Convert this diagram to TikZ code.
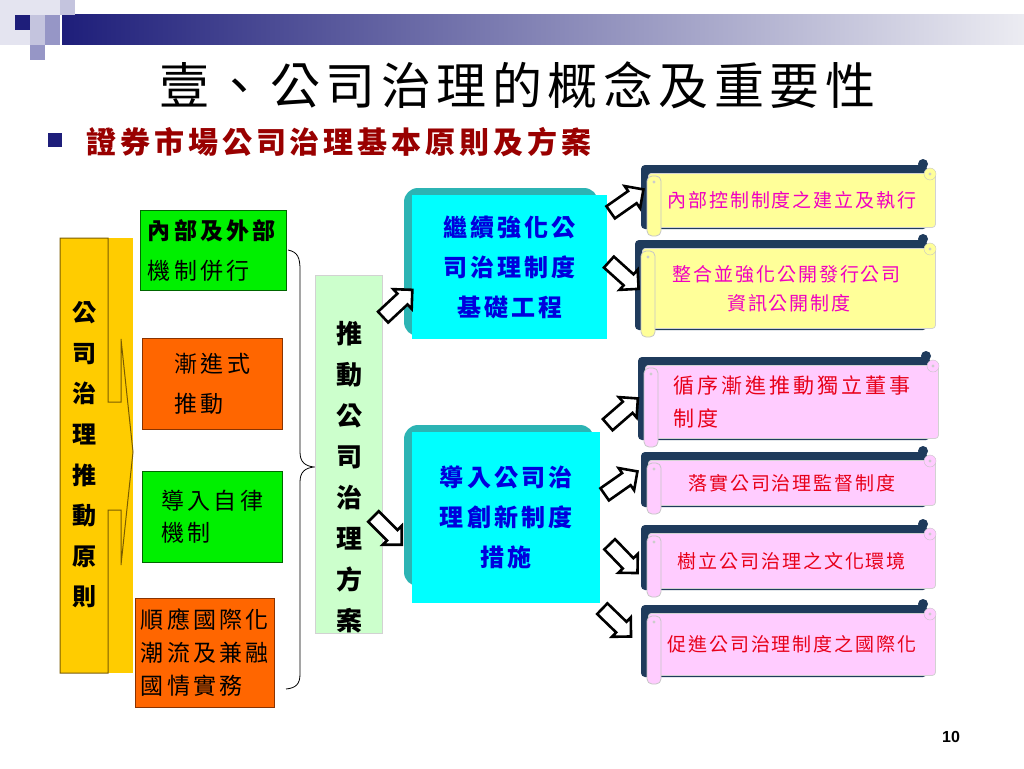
\documentclass[tikz,border=0pt]{standalone}
\usepackage{fontspec}
\usetikzlibrary{shapes.arrows,positioning,calc}
\newfontfamily\cjk{Noto Sans CJK TC}
\newfontfamily\numf{Liberation Sans}

\definecolor{navybar}{HTML}{1E1E7A}
\definecolor{barend}{HTML}{ECECF2}
\definecolor{sqpale}{HTML}{E4E4F0}
\definecolor{sqlight}{HTML}{C4C4DE}
\definecolor{sqmid}{HTML}{9696C6}
\definecolor{subred}{HTML}{990000}
\definecolor{colgold}{HTML}{FFCC00}
\definecolor{goldedge}{HTML}{7A5C00}
\definecolor{limefill}{HTML}{00F000}
\definecolor{limeedge}{HTML}{006600}
\definecolor{orangefill}{HTML}{FF6600}
\definecolor{orangeedge}{HTML}{8A3300}
\definecolor{mintfill}{HTML}{CCFFCC}
\definecolor{cyanfill}{HTML}{00FFFF}
\definecolor{cyanback}{HTML}{2CB4B4}
\definecolor{cyantext}{HTML}{0000DD}
\definecolor{scrollnavy}{HTML}{1F3B5C}
\definecolor{scrollyellow}{HTML}{FFFF99}
\definecolor{scrollpink}{HTML}{FFCCFF}
\definecolor{magtext}{HTML}{F000C0}
\definecolor{redtext}{HTML}{E8001A}

% scroll: name, x1, y1, x2, y2, fill, font/colour, text
\newcommand{\scrollbox}[8]{%
  \fill[scrollnavy, rounded corners=4pt] (#2-7,#3-8) rectangle (#4-8,#5+2);
  \fill[scrollnavy] (#4-12,#3-9) circle (5);
  \node[scrollbody, fill=#6, minimum width={#4-#2}, minimum height={#5-#3},
        anchor=north west, font=#7] (#1) at (#2,#3) {#8};
  \draw[scrollroll, fill=#6] (#2-1,#3+3) rectangle (#2+13,#5+9);
  \draw[gray!45, fill=#6] (#4-5,#3+1) circle (6);
  \fill[gray!40] (#2+6,#3+9) circle (1.6);
  \fill[gray!40] (#4-5,#3+1) circle (1.6);
}

\begin{document}
\begin{tikzpicture}[x=1pt,y=-1pt,
  box/.style={draw=#1, line width=0.8pt, inner sep=0pt, align=left, anchor=north west},
  cyanbox/.style={fill=cyanfill, inner sep=0pt, align=center, anchor=north west, text=cyantext,
    font=\cjk\bfseries\fontsize{24}{40}\selectfont\addfontfeatures{LetterSpace=13}},
  scrollbody/.style={draw=gray!35, line width=0.8pt, rounded corners=3pt, inner sep=0pt, align=left},
  scrollroll/.style={draw=gray!45, line width=0.8pt, rounded corners=5pt},
  blockarr/.style={single arrow, draw=black, line width=2.6pt, fill=white, minimum height=40pt,
    minimum width=27pt, single arrow head extend=6pt, inner xsep=0pt, inner ysep=6pt}]
  \useasboundingbox (0,0) rectangle (1024,768);
  \fill[white] (0,0) rectangle (1024,768);

  % Header band and squares
  \shade[left color=navybar, right color=barend] (62,15) rectangle (1024,45);
  \foreach \x/\y/\c in {0/0/sqpale, 15/0/sqpale, 30/0/sqpale, 45/0/sqpale, 60/0/sqlight,
      0/15/sqpale, 15/15/navybar, 30/15/sqlight, 45/15/sqmid,
      0/30/sqpale, 15/30/sqpale, 30/30/sqlight, 45/30/sqmid, 30/45/sqmid} {
    \fill[\c] (\x,\y) rectangle ++(15,15);
  }

  % Title and subtitle
  \node[font=\cjk\fontsize{50}{50}\selectfont\addfontfeatures{LetterSpace=11}] (title) at (517,85)
    {壹、公司治理的概念及重要性};
  \fill[navybar] (48,133) rectangle (62,147);
  \node[anchor=west, text=subred, font=\cjk\bfseries\fontsize{30}{30}\selectfont\addfontfeatures{LetterSpace=13}]
    (subtitle) at (83,142) {證券市場公司治理基本原則及方案};

  % Principle column
  \fill[colgold] (60,238) rectangle (133,673);
  \draw[goldedge, line width=1pt] (108,238) -- (60,238) -- (60,673) -- (108,673) -- (108,510)
    -- (121,510) -- (121,565) -- (133,452) -- (121,339) -- (121,402) -- (108,402) -- cycle;
  \node[align=center, font=\cjk\bfseries\fontsize{24}{40.6}\selectfont] (principle) at (84,455)
    {公\\司\\治\\理\\推\\動\\原\\則};

  % Four principles
  \node[box=limeedge, fill=limefill, minimum width=146pt, minimum height=80pt,
    font=\cjk\fontsize{23}{40}\selectfont\addfontfeatures{LetterSpace=14}] (inout) at (140,210)
    {\textbf{內部及外部}\\機制併行};
  \node[box=orangeedge, fill=orangefill, minimum width=140pt, minimum height=91pt,
    font=\cjk\fontsize{23}{40}\selectfont\addfontfeatures{LetterSpace=14}] (gradual) at (142,338)
    {漸進式\\推動};
  \node[box=limeedge, fill=limefill, minimum width=140pt, minimum height=91pt,
    font=\cjk\fontsize{23}{32}\selectfont\addfontfeatures{LetterSpace=14}] (selfreg) at (142,471)
    {導入自律\\機制};
  \node[box=orangeedge, fill=orangefill, minimum width=139pt, minimum height=109pt,
    font=\cjk\fontsize{23}{33}\selectfont\addfontfeatures{LetterSpace=14}] (intl) at (135,598)
    {順應國際化\\潮流及兼融\\國情實務};

  % Brace
  \draw[line width=0.8pt] (288,250) .. controls (298,252) and (300,258) .. (300,270) -- (300,452)
    .. controls (300,462) and (305,466) .. (314,467) .. controls (305,468) and (300,472) .. (300,482)
    -- (300,674) .. controls (300,684) and (296,688) .. (286,689);

  % Plan box
  \node[box=gray!35, fill=mintfill, minimum width=67pt, minimum height=358pt] (plan) at (315,275) {};
  \node[align=center, font=\cjk\bfseries\fontsize{26}{41}\selectfont] (plantxt) at (349,477)
    {推\\動\\公\\司\\治\\理\\方\\案};

  % Two programmes
  \fill[cyanback, rounded corners=14pt] (404,188) rectangle (598,336);
  \node[cyanbox, minimum width=195pt, minimum height=144pt] (basis) at (412,195)
    {繼續強化公\\司治理制度\\基礎工程};
  \fill[cyanback, rounded corners=14pt] (404,425) rectangle (594,586);
  \node[cyanbox, minimum width=188pt, minimum height=171pt] (innov) at (412,432)
    {導入公司治\\理創新制度\\措施};

  % Scrolls
  \scrollbox{ctrl}{648}{173}{935}{227}{scrollyellow}
    {\color{magtext}\cjk\fontsize{19}{29}\selectfont\addfontfeatures{LetterSpace=10}}
    {內部控制制度之建立及執行}
  \scrollbox{discl}{642}{248}{935}{328}{scrollyellow}
    {\color{magtext}\cjk\fontsize{19}{29}\selectfont\addfontfeatures{LetterSpace=10}}
    {\hspace*{-4pt}整合並強化公開發行公司\\\hfill 資訊公開制度\hfill\null}
  \scrollbox{indep}{645}{365}{938}{438}{scrollpink}
    {\color{redtext}\cjk\fontsize{21}{33}\selectfont\addfontfeatures{LetterSpace=14}}
    {循序漸進推動獨立董事\\制度}
  \scrollbox{superv}{648}{460}{935}{505}{scrollpink}
    {\color{redtext}\cjk\fontsize{19}{29}\selectfont\addfontfeatures{LetterSpace=10}}
    {落實公司治理監督制度}
  \scrollbox{culture}{648}{533}{935}{588}{scrollpink}
    {\color{redtext}\cjk\fontsize{19}{29}\selectfont\addfontfeatures{LetterSpace=10}}
    {樹立公司治理之文化環境}
  \scrollbox{global}{648}{613}{935}{675}{scrollpink}
    {\color{redtext}\cjk\fontsize{19}{29}\selectfont\addfontfeatures{LetterSpace=10}}
    {促進公司治理制度之國際化}

  % Block arrows
  \node[blockarr, rotate=43] (ar1) at (395,306) {};
  \node[blockarr, rotate=-45] (ar2) at (385,528) {};
  \node[blockarr, rotate=35] (ar3) at (624,203) {};
  \node[blockarr, rotate=-42] (ar4) at (621,273) {};
  \node[blockarr, rotate=41] (ar5) at (620,414) {};
  \node[blockarr, rotate=35] (ar6) at (618,485) {};
  \node[blockarr, rotate=-46] (ar7) at (621,556) {};
  \node[blockarr, rotate=-44] (ar8) at (614,620) {};

  % Page number
  \node[font=\numf\bfseries\fontsize{16}{16}\selectfont] (pgnum) at (951,737) {10};
\end{tikzpicture}
\end{document}
